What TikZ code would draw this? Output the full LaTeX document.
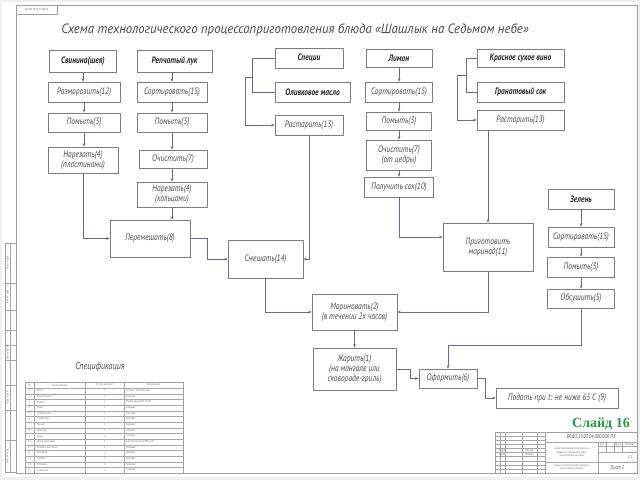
\documentclass[tikz,border=0pt]{standalone}
\usepackage{fontspec}
\setmainfont{PT Sans}
\newfontfamily\gost[FakeStretch=0.8]{PT Sans}
\newfontfamily\gostwide[FakeStretch=0.95]{PT Sans}
\newfontfamily\slidefont{Liberation Serif}
\usetikzlibrary{arrows.meta}

\definecolor{linkcol}{RGB}{105,105,150}
\definecolor{boxcol}{RGB}{125,125,125}
\definecolor{txtcol}{RGB}{75,75,75}
\definecolor{slidegreen}{RGB}{45,150,75}

\tikzset{
  sz/.style 2 args={minimum width=#1pt, minimum height=#2pt},
  stage/.style={draw=boxcol, line width=0.6pt, align=center, inner sep=1pt,
    font=\gost\itshape\fontsize{9.3}{9.8}\selectfont, text=txtcol},
  ingred/.style={stage, font=\gost\bfseries\itshape\fontsize{9.3}{9.8}\selectfont, text=black!85},
  link/.style={->, draw=linkcol, line width=0.5pt},
  plain/.style={draw=linkcol, line width=0.5pt},
  frameline/.style={draw=gray!75, line width=0.5pt},
  thinline/.style={draw=gray!70, line width=0.3pt},
  tinytext/.style={font=\gost\fontsize{3}{3.4}\selectfont, text=gray!90!black, inner sep=0pt},
}

\begin{document}
\begin{tikzpicture}[x=1pt, y=-1pt, >={Stealth[length=3.5pt,width=2.6pt]}]
    \useasboundingbox (0,0) rectangle (640,480);
    \fill[gray!12] (0,0) rectangle (640,480);
    \fill[white] (2,2) rectangle (638,477);

    % sheet frame and stamps
    \draw[frameline] (16,5) rectangle (637,473);
    \draw[frameline] (16,5) rectangle (57,14);
    \node[tinytext, rotate=180] (stampTop) at (36.5,9.5) {БР.ДО.19.03.04.000 ПЗ};
    \draw[frameline] (5,243) rectangle (16,472);
    \draw[thinline] (10,243) -- (10,472);
    \foreach \y in {283,310,330,345,360,385,410,440}
        \draw[thinline] (5,\y) -- (16,\y);
    \foreach \y/\t in {263/{Подп. и дата}, 296.5/{Инв. № дубл.}, 352.5/{Взам. инв. №}, 397.5/{Подп. и дата}, 456/{Инв. № подл.}}
        \node[tinytext, rotate=90] at (7.5,\y) {\t};

    % title
    \node[font=\gostwide\itshape\fontsize{13.5}{14}\selectfont, text=txtcol] (title) at (295,30)
        {Схема технологического процессаприготовления блюда «Шашлык на Седьмом небе»};

    % pork column
    \node[ingred, sz={67}{22}] (pork) at (83,61) {Свинина(шея)};
    \node[stage, sz={72}{20}] (thaw) at (84,92) {Разморозить(12)};
    \node[stage, sz={72}{19}] (washPork) at (84,122.5) {Помыть(3)};
    \node[stage, sz={70}{26}] (cutPork) at (83,160) {Нарезать(4)\\(пластинами)};

    % onion column
    \node[ingred, sz={75}{22}] (onion) at (174.5,61) {Репчатый лук};
    \node[stage, sz={70}{20}] (sortOnion) at (172,92) {Сортировать(15)};
    \node[stage, sz={70}{19}] (washOnion) at (172,122.5) {Помыть(3)};
    \node[stage, sz={68}{18}] (peelOnion) at (173,159) {Очистить(7)};
    \node[stage, sz={70}{25}] (cutOnion) at (172,194.5) {Нарезать(4)\\(кольцами)};

    % spices
    \node[ingred, sz={68}{20}] (spice) at (309,58) {Специи};
    \node[ingred, sz={75}{20}] (oil) at (312.5,92) {Оливковое масло};
    \node[stage, sz={68}{20}] (grindSpice) at (309,125) {Растарить(13)};
    \coordinate (spiceJoin) at (253,77);

    % lemon column
    \node[ingred, sz={66}{18}] (lemon) at (399,58) {Лимон};
    \node[stage, sz={67}{20}] (sortLemon) at (399,92) {Сортировать(15)};
    \node[stage, sz={65}{18}] (washLemon) at (399,121) {Помыть(3)};
    \node[stage, sz={65}{30}] (peelLemon) at (399,155) {Очистить(7)\\(от цедры)};
    \node[stage, sz={69}{20}] (juice) at (399,187) {Получить сок(10)};

    % wine and juice
    \node[ingred, sz={87}{18}] (wine) at (520.5,58) {Красное сухое вино};
    \node[ingred, sz={87}{20}] (pomegr) at (520.5,92) {Гранатовый сок};
    \node[stage, sz={87}{20}] (grindWine) at (520.5,120) {Растарить(13)};
    \coordinate (wineJoin) at (467,75);

    % greens column
    \node[ingred, sz={66}{20}] (greens) at (581,199) {Зелень};
    \node[stage, sz={66}{20}] (sortGreens) at (581,237) {Сортировать(15)};
    \node[stage, sz={67}{20}] (washGreens) at (581,267) {Помыть(3)};
    \node[stage, sz={67}{19}] (dryGreens) at (581,298.5) {Обсушить(5)};

    % joint stages
    \node[stage, sz={80}{37}] (stir) at (150,238.5) {Перемешать(8)};
    \node[stage, sz={75}{38}] (mix) at (265.5,259) {Смешать(14)};
    \node[stage, sz={90}{48}] (marinade) at (488,247) {Приготовить\\маринад(11)};
    \node[stage, sz={85}{36}] (marinate) at (354.5,312) {Мариновать(2)\\(в течении 2х часов)};
    \node[stage, sz={83}{42}] (fry) at (354.5,369) {Жарить(1)\\(на мангале или\\сковороде-гриль)};
    \node[stage, sz={58}{19}] (decor) at (448,378.5) {Оформить(6)};
    \node[stage, sz={122}{20}] (serve) at (557,398) {Подать при t: не ниже 65 С (9)};

    % column links
    \draw[link] (pork) -- (pork |- thaw.north);
    \draw[link] (thaw) -- (thaw |- washPork.north);
    \draw[link] (washPork) -- (washPork |- cutPork.north);
    \draw[link] (onion.south -| sortOnion) -- (sortOnion);
    \draw[link] (sortOnion) -- (washOnion);
    \draw[link] (washOnion) -- (peelOnion.north -| washOnion);
    \draw[link] (peelOnion.south -| cutOnion) -- (cutOnion);
    \draw[link] (lemon) -- (sortLemon);
    \draw[link] (sortLemon) -- (washLemon);
    \draw[link] (washLemon) -- (peelLemon);
    \draw[link] (peelLemon) -- (juice);
    \draw[link] (greens) -- (sortGreens);
    \draw[link] (sortGreens) -- (washGreens);
    \draw[link] (washGreens) -- (dryGreens);

    % brackets
    \draw[plain] (spice.west) -- ++(-22,0) |- (oil.west);
    \draw[link] (spiceJoin) -- ++(-8,0) |- (grindSpice.west);
    \draw[plain] (wine.west) -- ++(-10,0) |- (pomegr.west);
    \draw[link] (wineJoin) -- ++(-10,0) |- (grindWine.west);

    % flow links
    \draw[link] (cutPork.south) |- (stir.west);
    \draw[link] (cutOnion.south) -- (cutOnion.south |- stir.north);
    \draw[link] (stir.east) -- ++(17,0) |- (mix.west);
    \draw[link] (grindSpice.south) |- (mix.east);
    \draw[link] (grindWine.south -| marinade.north) -- (marinade.north);
    \draw[link] (juice.south) |- ([yshift=10pt]marinade.west);
    \draw[link] (mix.south) |- (marinate.west);
    \draw[link] (marinade.south) |- (marinate.east);
    \draw[link] (marinate.south) -- (fry.north);
    \draw[link] (fry.east) -- ++(14,0) |- (decor.west);
    \draw[link] (dryGreens.south) -- ++(0,37) -| (decor.north);
    \draw[link] (decor.east) -- ++(8,0) |- (serve.west);

    % specification
    \node[font=\gost\itshape\fontsize{10}{10}\selectfont, text=txtcol] (specTitle) at (100,367) {Спецификация};
    \draw[frameline] (25,382) rectangle (183,473);
    \foreach \x in {34,85,124}
        \draw[thinline] (\x,382) -- (\x,473);
    \foreach \k in {0,...,14}
        \draw[thinline] (25,{388+\k*5.667}) -- (183,{388+\k*5.667});
    \node[tinytext] at (29.5,385) {№};
    \node[tinytext] at (59.5,385) {Наименование};
    \node[tinytext] at (104.5,385) {Кол-во изделий};
    \node[tinytext] at (153.5,385) {Примечание};
    \foreach \n/\name/\q/\note [count=\k from 0] in {1/Весы/1/{Ручные / Электронные}, 2/Морозильник/1/Хорошая,
        3/Мойка/1/{Мойка-ванна ВМ-1/530}, 4/Ножи/2/Хорошая, 5/Холодильник/1/Хорошая,
        6/Сковорода/2/Хорошая, 7/Мангал/1/Хорошая, 8/Шампуры/1/Хорошая, 9/Доска/1/Хорошая,
        10/{Шкаф жарочный}/1/{Электрический (РЭБА-123)}, 11/{Разделочные доски}/1/Хорошая,
        12/Кастрюля/1/Хорошая, 13/Тарелки/1/Хорошая, 14/Половник/1/Хорошая, 15/Салатники/1/Хорошая}
    {
        \node[tinytext] at (29.5,{390.8+\k*5.667}) {\n};
        \node[tinytext, anchor=west] at (37,{390.8+\k*5.667}) {\name};
        \node[tinytext] at (104.5,{390.8+\k*5.667}) {\q};
        \node[tinytext, anchor=west] at (126,{390.8+\k*5.667}) {\note};
    }

    % title block
    \node[font=\slidefont\bfseries\fontsize{14}{14}\selectfont, text=slidegreen] (slide) at (601,424) {Слайд 16};
    \draw[frameline] (495,432) rectangle (637,473);
    \draw[thinline] (545,432) -- (545,473);
    \draw[thinline] (545,442) -- (637,442);
    \draw[thinline] (545,462) -- (637,462);
    \draw[thinline] (598,442) -- (598,473);
    \foreach \x in {500,505,522,537}
        \draw[thinline] (\x,432) -- (\x,473);
    \foreach \y in {436.1,440.2,444.3,448.4,452.5,456.6,460.7,464.8,468.9}
        \draw[thinline] (495,\y) -- (545,\y);
    \foreach \x in {606,614,622}
        \draw[thinline] (\x,442) -- (\x,452);
    \draw[thinline] (598,446) -- (637,446);
    \draw[thinline] (598,452) -- (637,452);
    \node[font=\gost\itshape\fontsize{5.5}{6}\selectfont, text=txtcol] (docCode) at (591,437) {БР.ДО.19.03.04.000.000 ПЗ};
    \node[tinytext, align=center] (docName) at (571.5,452) {Схема технологического процесса\\«Шашлык на Седьмом небе»\\Технологическая схема};
    \node[tinytext, align=center] (docSheet) at (571.5,467.5) {Схема технологического процесса\\приготовления блюда};
    \node[tinytext] at (602,444) {Лит.};
    \node[tinytext] at (618,444) {Масса};
    \node[tinytext] at (630,444) {Масштаб};
    \node[font=\gost\itshape\fontsize{4}{4}\selectfont, text=txtcol] at (630,457) {1:1};
    \node[font=\gost\itshape\fontsize{5.5}{6}\selectfont, text=txtcol] (docPages) at (617.5,467.5) {Лист 1};
    \node[tinytext] at (502.5,450.5) {Разраб.};
    \node[tinytext] at (502.5,454.6) {Пров.};
    \node[tinytext] at (529.5,450.5) {Иванов};
    \node[tinytext] at (529.5,454.6) {Петрова};
\end{tikzpicture}
\end{document}
